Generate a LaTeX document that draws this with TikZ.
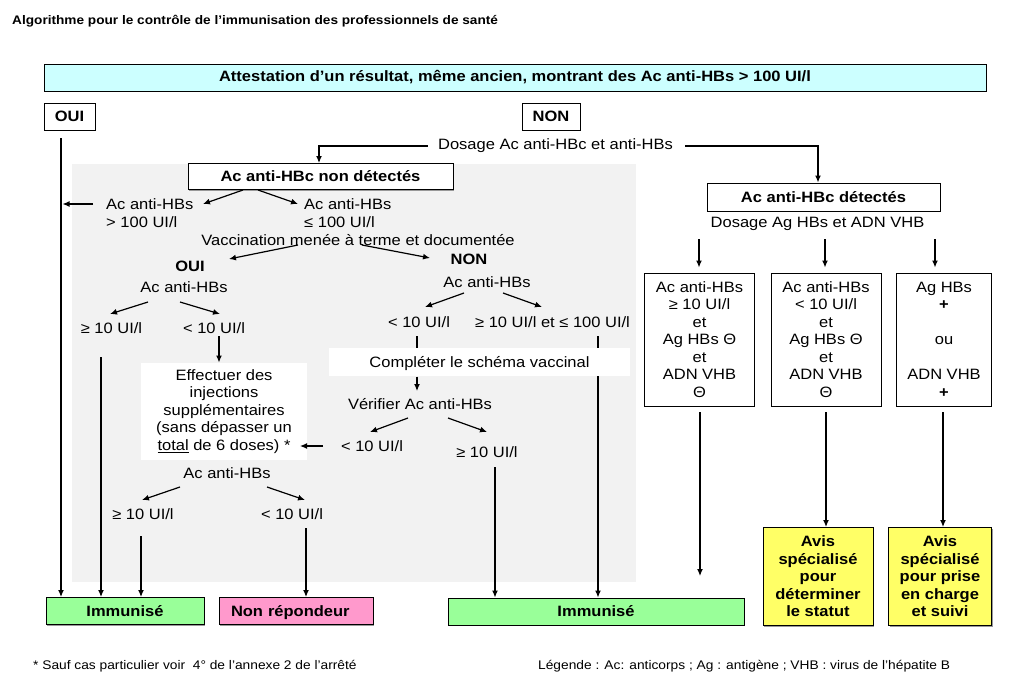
\documentclass[tikz,border=0pt]{standalone}
\usepackage{fontspec}
\setmainfont{Liberation Sans}[FakeStretch=1.1]
\usetikzlibrary{arrows.meta,shadows}
\definecolor{cyanbox}{HTML}{CCFFFF}
\definecolor{greenbox}{HTML}{99FF99}
\definecolor{pinkbox}{HTML}{FF99CC}
\definecolor{yellowbox}{HTML}{FFFF66}
\definecolor{bggray}{HTML}{F2F2F2}
\newcommand{\fs}{\fontsize{15}{17.5}\selectfont}
\newcommand{\fsm}{\fontsize{12.5}{14}\selectfont}
\begin{document}
\begin{tikzpicture}[x=1pt,y=-1pt,
  txt/.style={inner sep=0pt, font=\fs},
  btxt/.style={inner sep=0pt, font=\fs\bfseries},
  bx/.style={draw, line width=1pt, inner sep=0pt, align=center, font=\fs},
  bbx/.style={bx, font=\fs\bfseries},
  oneline/.style={text height=10.8pt, text depth=0pt},
  sh/.style={drop shadow={shadow xshift=1.3pt, shadow yshift=-1.3pt, fill=black!40, opacity=1}},
  arr/.style={line width=1.2pt, -{Latex[length=7pt,width=6pt]}},
  ln/.style={line width=1.2pt},
]
\useasboundingbox[fill=white] (0,0) rectangle (1024,693);

% title
\node[inner sep=0pt, anchor=west, font=\fontsize{12.4}{14}\selectfont\bfseries] (title) at (12,21)
  {Algorithme pour le contrôle de l’immunisation des professionnels de santé};

% grey background region
\node[fill=bggray, inner sep=0pt, minimum width=564pt, minimum height=418pt] (bg) at (354,373) {};

% top boxes
\node[bbx, fill=cyanbox, sh, minimum width=942pt, minimum height=27pt] (attest) at (515,77.5)
  {Attestation d’un résultat, même ancien, montrant des Ac anti-HBs > 100 UI/l};
\node[bbx, fill=white, sh, minimum width=51pt, minimum height=27pt] (oui) at (69.5,116.5) {OUI};
\node[bbx, fill=white, sh, minimum width=58pt, minimum height=27pt] (non) at (551,116.5) {NON};

\node[txt] (dosage) at (555.5,146) {Dosage Ac anti-HBc et anti-HBs};

\node[bbx, fill=white, sh, minimum width=265pt, minimum height=26pt] (nondet) at (320.5,176.5) {Ac anti-HBc non détectés};
\node[bbx, fill=white, sh, minimum width=233pt, minimum height=28pt] (det) at (823.5,197) {Ac anti-HBc détectés};
\node[txt] (dosage2) at (817.5,224) {Dosage Ag HBs et ADN VHB};

% result boxes
\node[bbx, fill=greenbox, sh, minimum width=158pt, minimum height=27pt] (imm1) at (125,611) {Immunisé};
\node[bbx, fill=pinkbox, sh, oneline, text width=130pt, align=left, inner xsep=12pt, minimum height=27pt] (nonrep) at (296,611) {Non répondeur};
\node[bbx, fill=greenbox, sh, minimum width=296pt, minimum height=27pt] (imm2) at (596,611.5) {Immunisé};

% left (non detected) branch texts
\node[txt, align=left, anchor=west] (hbsL) at (106,213) {Ac anti-HBs\\> 100 UI/l};
\node[txt, align=left, anchor=west] (hbsR) at (304,213) {Ac anti-HBs\\≤ 100 UI/l};
\node[txt] (vacc) at (358,240) {Vaccination menée à terme et documentée};
\node[btxt] (oui2) at (190,266.5) {OUI};
\node[txt] (abs1) at (184,287) {Ac anti-HBs};
\node[txt] (ge1) at (111.5,328) {≥ 10 UI/l};
\node[txt] (lt1) at (214,328) {< 10 UI/l};
\node[txt] (abs2) at (227,473) {Ac anti-HBs};
\node[txt] (ge2) at (143,514) {≥ 10 UI/l};
\node[txt] (lt2) at (292,514) {< 10 UI/l};
\node[btxt] (non2) at (469,259) {NON};
\node[txt] (abs3) at (487,282) {Ac anti-HBs};
\node[txt] (lt3) at (419,322) {< 10 UI/l};
\node[txt] (ge3) at (552.5,322) {≥ 10 UI/l et ≤ 100 UI/l};

% line behind the white box
\draw[arr] (598,336) -- (598,0 |- imm2.north);

\node[bx, draw=none, fill=white, minimum width=166pt, minimum height=97pt] (effect) at (224,411.5)
  {Effectuer des\\injections\\supplémentaires\\(sans dépasser un\\\underline{total} de 6 doses) *};
\node[bx, draw=none, fill=white, oneline, minimum width=301pt, minimum height=28pt] (complete) at (479.5,362)
  {Compléter le schéma vaccinal};
\node[txt] (verif) at (420,404) {Vérifier Ac anti-HBs};
\node[txt] (lt4) at (372,446) {< 10 UI/l};
\node[txt] (ge4) at (487,452) {≥ 10 UI/l};

% right branch boxes
\node[bx, fill=white, minimum width=110pt, minimum height=133pt] (boxA) at (699.5,339.5)
  {Ac anti-HBs\\≥ 10 UI/l\\et\\Ag HBs Θ\\et\\ADN VHB\\Θ};
\node[bx, fill=white, minimum width=110pt, minimum height=133pt] (boxB) at (826,339.5)
  {Ac anti-HBs\\< 10 UI/l\\et\\Ag HBs Θ\\et\\ADN VHB\\Θ};
\node[bx, fill=white, minimum width=95pt, minimum height=133pt] (boxC) at (944,339.5)
  {Ag HBs\\\textbf{+}\\\mbox{}\\ou\\\mbox{}\\ADN VHB\\\textbf{+}};
\node[bbx, fill=yellowbox, sh, minimum width=110pt, minimum height=98pt] (Y1) at (818,576.5)
  {Avis\\spécialisé\\pour\\déterminer\\le statut};
\node[bbx, fill=yellowbox, sh, minimum width=103pt, minimum height=98pt] (Y2) at (940,576.5)
  {Avis\\spécialisé\\pour prise\\en charge\\et suivi};

% footer
\node[inner sep=0pt, anchor=west, font=\fsm] (foot) at (33,666) {* Sauf cas particulier voir\ \ 4° de l’annexe 2 de l’arrêté};
\node[inner sep=0pt, anchor=west, font=\fsm] (legend) at (538,666) {Légende : Ac: anticorps ; Ag : antigène ; VHB : virus de l’hépatite B};

% connectors
\coordinate (ouiS) at (61,138);
\draw[arr] (ouiS) -- (61,0 |- imm1.north);
\draw[arr] ([xshift=-10pt]dosage.west) -| (319,0 |- nondet.north);
\draw[arr] ([xshift=12pt]dosage.east) -| (818,0 |- det.north);
\draw[arr] (243,190) -- (203,204);
\draw[arr] (258,190) -- (298,204);
\draw[arr] (93,204) -- (62.5,204);
\draw[arr] (298,245) -- (229,259);
\draw[arr] (362,245) -- (430,258);
\draw[arr] (148,302) -- (110,314);
\draw[arr] (180,302) -- (220,314);
\draw[arr] (219,336) -- (219,0 |- effect.north);
\draw[arr] (101,357) -- (101,0 |- imm1.north);
\draw[arr] (323,446) -- (300,446);
\draw[arr] (180,487) -- (142,500);
\draw[arr] (267,487) -- (305,500);
\draw[arr] (141,536) -- (141,0 |- imm1.north);
\draw[arr] (306,528) -- (306,0 |- nonrep.north);
\draw[arr] (464,293) -- (425,307);
\draw[arr] (503,293) -- (542,307);
\draw[ln] (417,336) -- (417,0 |- complete.north);
\draw[arr] (417,0 |- complete.south) -- (417,391);
\draw[arr] (408,418) -- (370,432);
\draw[arr] (448,418) -- (487,432);
\draw[arr] (495,467) -- (495,0 |- imm2.north);
\draw[arr, shorten >=5pt] (699,239) -- (699,0 |- boxA.north);
\draw[arr, shorten >=5pt] (825,239) -- (825,0 |- boxB.north);
\draw[arr, shorten >=5pt] (935,239) -- (935,0 |- boxC.north);
\draw[arr] (700,412) -- (700,576);
\draw[arr] (826,412) -- (826,0 |- Y1.north);
\draw[arr] (943,412) -- (943,0 |- Y2.north);
\end{tikzpicture}
\end{document}
